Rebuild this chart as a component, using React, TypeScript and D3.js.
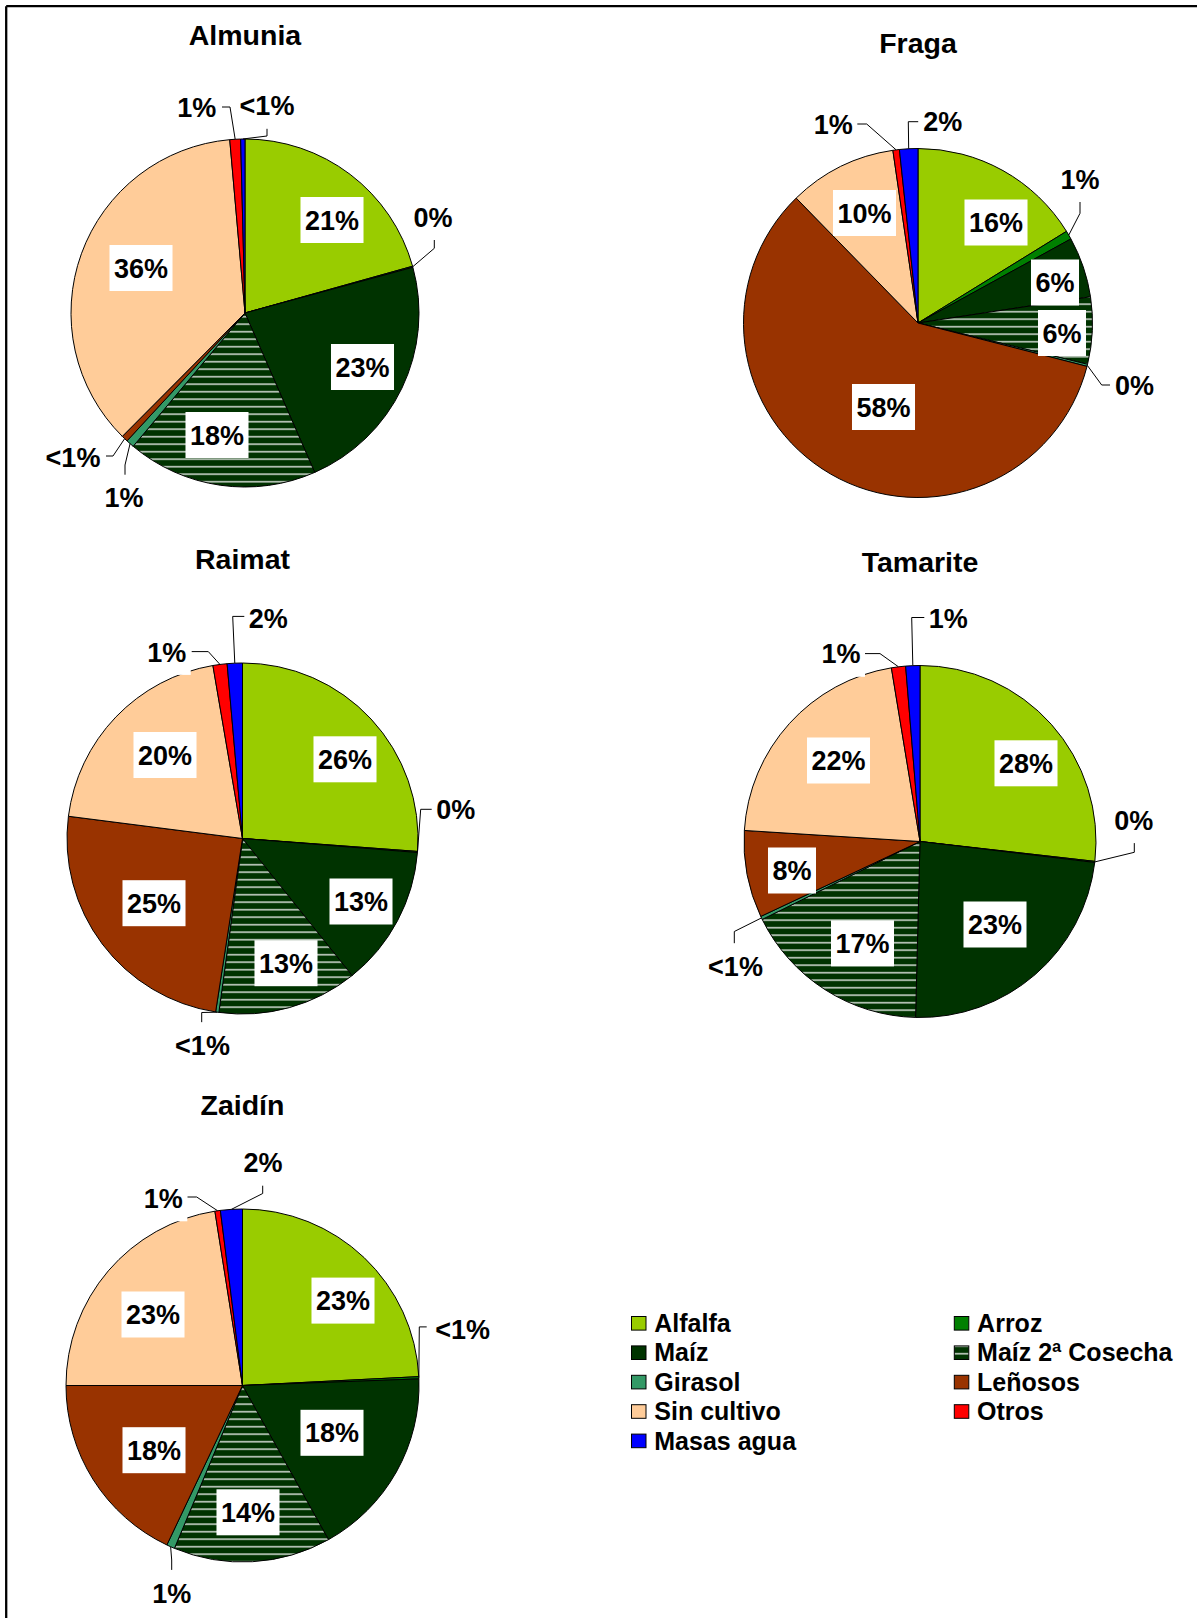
import React from "react";
import * as d3 from "d3";

// ---------- data ----------
const categories = [
  "Alfalfa",
  "Arroz",
  "Maíz",
  "Maíz 2ª Cosecha",
  "Girasol",
  "Leñosos",
  "Sin cultivo",
  "Otros",
  "Masas agua",
];

const almuniaValues = [20.7, 0.1, 22.7, 17.7, 0.75, 0.6, 36.2, 1.0, 0.4];
const almuniaLabels = ["21%", "0%", "23%", "18%", "1%", "<1%", "36%", "1%", "<1%"];

const fragaValues = [16.2, 0.8, 5.6, 6.2, 0.2, 58.7, 10.0, 0.6, 1.7];
const fragaLabels = ["16%", "1%", "6%", "6%", "0%", "58%", "10%", "1%", "2%"];

const raimatValues = [26.2, 0.1, 13.0, 12.9, 0.3, 24.6, 20.3, 1.3, 1.4];
const raimatLabels = ["26%", "0%", "13%", "13%", "<1%", "25%", "20%", "1%", "2%"];

const tamariteValues = [26.8, 0.1, 23.5, 17.3, 0.3, 8.0, 21.4, 1.3, 1.3];
const tamariteLabels = ["28%", "0%", "23%", "17%", "<1%", "8%", "22%", "1%", "1%"];

const zaidinValues = [24.2, 0.2, 17.5, 14.4, 0.75, 17.95, 22.5, 0.5, 2.0];
const zaidinLabels = ["23%", "<1%", "18%", "14%", "1%", "18%", "23%", "1%", "2%"];

// ---------- styles ----------
const colors = [
  "#99CC00",
  "#008000",
  "#003300",
  "url(#hatch)",
  "#339966",
  "#993300",
  "#FFCC99",
  "#FF0000",
  "#0000FF",
];

const FONT = "'Liberation Sans', Arial, Helvetica, sans-serif";
const LABEL_FS = 27;
const TITLE_FS = 28.5;
const LEGEND_FS = 25;

type Pt = [number, number];
interface ChartLayout {
  title: string;
  values: number[];
  labels: string[];
  cx: number;
  cy: number;
  r: number;
  titleY: number;
  inner: Record<number, Pt>;
  outer: Record<number, { t: Pt; path: Pt[] }>;
}

const charts: ChartLayout[] = [
  {
    title: "Almunia",
    values: almuniaValues,
    labels: almuniaLabels,
    cx: 245,
    cy: 313,
    r: 174,
    titleY: 45,
    inner: { 0: [332, 220], 2: [362.5, 367], 3: [217, 435], 6: [141, 268] },
    outer: {
      1: { t: [433, 217], path: [[434.3, 248.3], [434.3, 238]] },
      4: { t: [124, 497.7], path: [[125, 465], [125, 476.7]] },
      5: { t: [73, 457], path: [[113, 456], [106, 456]] },
      7: { t: [196.7, 107.2], path: [[230, 107], [222, 107]] },
      8: { t: [267, 105.8], path: [[267, 136], [267, 125]] },
    },
  },
  {
    title: "Fraga",
    values: fragaValues,
    labels: fragaLabels,
    cx: 918,
    cy: 323,
    r: 174.5,
    titleY: 53.3,
    inner: { 0: [996, 222.5], 2: [1055, 282.5], 3: [1062, 333], 5: [883.5, 407], 6: [864.5, 213] },
    outer: {
      1: { t: [1080, 179], path: [[1080, 213.3], [1080, 200]] },
      4: { t: [1134.5, 385.3], path: [[1101.7, 385], [1110, 385]] },
      7: { t: [833.3, 124], path: [[866.7, 124], [856.7, 124]] },
      8: { t: [942.7, 121.7], path: [[908.3, 121.7], [918.3, 121.7]] },
    },
  },
  {
    title: "Raimat",
    values: raimatValues,
    labels: raimatLabels,
    cx: 242.5,
    cy: 838.5,
    r: 175.5,
    titleY: 568.7,
    inner: { 0: [345, 759.3], 2: [361, 901.5], 3: [286, 963.2], 5: [154, 903.2], 6: [165, 755] },
    outer: {
      1: { t: [455.7, 809.8], path: [[420.7, 809.3], [433.3, 809.3]] },
      4: { t: [202.5, 1045.2], path: [[201.7, 1012.5], [201.7, 1022.8]] },
      7: { t: [166.7, 651.9], path: [[208.3, 651.6], [191.7, 651.6]] },
      8: { t: [268.3, 618.2], path: [[232.7, 616.4], [245, 616.4]] },
    },
  },
  {
    title: "Tamarite",
    values: tamariteValues,
    labels: tamariteLabels,
    cx: 920,
    cy: 841.5,
    r: 176,
    titleY: 571.5,
    inner: { 0: [1026, 763.3], 2: [995, 924.5], 3: [862.5, 943.4], 5: [792, 870.5], 6: [838.5, 760.5] },
    outer: {
      1: { t: [1133.8, 820.1], path: [[1134.3, 852.3], [1134.3, 839.6]] },
      4: { t: [735.5, 966.3], path: [[734.3, 931.5], [734.3, 943.6]] },
      7: { t: [841, 653.8], path: [[880, 653.6], [865, 653.6]] },
      8: { t: [948.3, 618.2], path: [[911.7, 617.5], [925, 617.5]] },
    },
  },
  {
    title: "Zaidín",
    values: zaidinValues,
    labels: zaidinLabels,
    cx: 242.5,
    cy: 1385.5,
    r: 176.5,
    titleY: 1115.3,
    inner: { 0: [343, 1300.6], 2: [332, 1432.8], 3: [248, 1512.3], 5: [154, 1450.2], 6: [153, 1314.5] },
    outer: {
      1: { t: [462.7, 1329.2], path: [[419.3, 1326.9], [426.7, 1326.9]] },
      4: { t: [171.7, 1592.9], path: [[171.7, 1560], [171.7, 1570.7]] },
      7: { t: [163.3, 1198.3], path: [[196.7, 1197], [187.3, 1197]] },
      8: { t: [263, 1162.7], path: [[262.7, 1193.5], [262.7, 1182.8]] },
    },
  },
];

const charW: Record<string, number> = { "%": 0.889, "<": 0.584 };
function textWidth(s: string, fs: number) {
  let w = 0;
  for (const c of s) w += charW[c] ?? 0.556;
  return w * fs;
}

function LabelBox({ x, y, text }: { x: number; y: number; text: string }) {
  const w = textWidth(text, LABEL_FS) + 9;
  const h = 46;
  return (
    <g>
      <rect x={x - w / 2} y={y - h / 2} width={w} height={h} fill="#fff" />
      <text
        x={x}
        y={y + 9.6}
        textAnchor="middle"
        fontSize={LABEL_FS}
        fontWeight="bold"
        fontFamily={FONT}
        fill="#000"
      >
        {text}
      </text>
    </g>
  );
}

function PieChart({ c }: { c: ChartLayout }) {
  const pie = d3
    .pie<number>()
    .sort(null)
    .value((d) => d);
  const arcs = pie(c.values);
  const arcGen = d3.arc<d3.PieArcDatum<number>>().innerRadius(0).outerRadius(c.r);
  const edge = (i: number): Pt => {
    const a = (arcs[i].startAngle + arcs[i].endAngle) / 2;
    return [c.cx + c.r * Math.sin(a), c.cy - c.r * Math.cos(a)];
  };
  return (
    <g>
      <g transform={`translate(${c.cx},${c.cy})`}>
        {arcs.map((a, i) => (
          <path
            key={i}
            d={arcGen(a) || ""}
            fill={colors[i]}
            stroke="#000"
            strokeWidth={1}
            strokeLinejoin="round"
          />
        ))}
      </g>
      {Object.entries(c.outer).map(([k, o]) => {
        const i = +k;
        const pts = [edge(i), ...o.path];
        return (
          <polyline
            key={"l" + k}
            points={pts.map((p) => p.join(",")).join(" ")}
            fill="none"
            stroke="#000"
            strokeWidth={1}
          />
        );
      })}
      {Object.entries(c.inner).map(([k, p]) => (
        <LabelBox key={"i" + k} x={p[0]} y={p[1]} text={c.labels[+k]} />
      ))}
      {Object.entries(c.outer).map(([k, o]) => (
        <LabelBox key={"o" + k} x={o.t[0]} y={o.t[1]} text={c.labels[+k]} />
      ))}
      <text
        x={c.cx}
        y={c.titleY}
        textAnchor="middle"
        fontSize={TITLE_FS}
        fontWeight="bold"
        fontFamily={FONT}
        fill="#000"
      >
        {c.title}
      </text>
    </g>
  );
}

function Legend() {
  const colX = [631.5, 954.3];
  const rowY = d3.range(5).map((r) => 1323.3 + r * 29.4);
  return (
    <g>
      {categories.map((name, i) => {
        const x = colX[i % 2];
        const y = rowY[Math.floor(i / 2)];
        return (
          <g key={name}>
            <rect
              x={x}
              y={y - 6.8}
              width={14.5}
              height={13.6}
              fill={colors[i]}
              stroke="#000"
              strokeWidth={1}
            />
            <text
              x={x + 22.8}
              y={y + 8.6}
              fontSize={LEGEND_FS}
              fontWeight="bold"
              fontFamily={FONT}
              fill="#000"
            >
              {name}
            </text>
          </g>
        );
      })}
    </g>
  );
}

export default function App() {
  return (
    <svg
      width={1197}
      height={1618}
      style={{ position: "absolute", left: 0, top: 0, background: "#fff" }}
    >
      <defs>
        <pattern id="hatch" patternUnits="userSpaceOnUse" width={8} height={7.5}>
          <rect width={8} height={7.5} fill="#003300" />
          <rect y={3} width={8} height={1.4} fill="#e4e8e4" />
        </pattern>
      </defs>
      <rect width={1197} height={1618} fill="#fff" />
      {charts.map((c) => (
        <PieChart key={c.title} c={c} />
      ))}
      <Legend />
      <line x1={6.2} y1={6.2} x2={1197} y2={6.2} stroke="#000" strokeWidth={2.3} />
      <line x1={6.2} y1={6.2} x2={6.2} y2={1618} stroke="#000" strokeWidth={2.3} />
    </svg>
  );
}
